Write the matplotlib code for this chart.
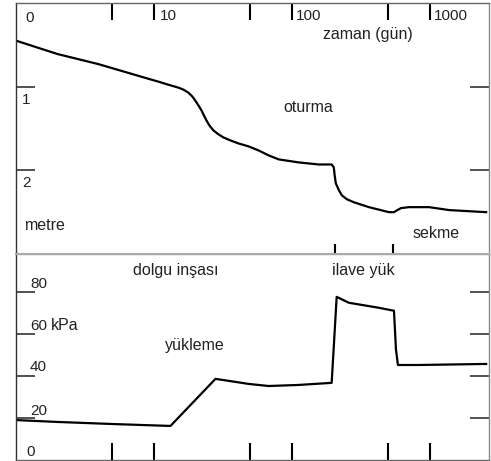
import matplotlib
matplotlib.use("Agg")
import matplotlib.pyplot as plt
from matplotlib.ticker import NullLocator

plt.rcParams['font.family'] = ['Liberation Sans', 'DejaVu Sans']

# settlement (oturma), metre vs days
settle_days = [1, 2.0, 3.95, 9.1, 10.8, 12.7, 15.1, 16.4, 17.8, 19.05, 20.0, 21.1,
               22.2, 23.3, 24.1, 25.3, 27.1, 29.5, 32.0, 36.0, 41.2, 48.7, 57.5,
               68, 80.4, 112, 157, 195, 202, 205, 209, 220, 231, 251, 282, 363,
               508, 552, 583, 620, 709, 991, 1386, 2575]
settle_m = [0.45, 0.61, 0.73, 0.905, 0.94, 0.976, 1.012, 1.036, 1.071, 1.119, 1.167,
            1.226, 1.286, 1.357, 1.405, 1.464, 1.524, 1.571, 1.607, 1.643, 1.679,
            1.714, 1.762, 1.821, 1.869, 1.905, 1.93, 1.93, 1.964, 2.06, 2.155,
            2.238, 2.298, 2.345, 2.381, 2.44, 2.50, 2.50, 2.476, 2.452, 2.44,
            2.44, 2.475, 2.50]

# load (yükleme), kPa vs days
load_days = [1, 2.0, 5.1, 13.2, 28, 48.7, 68, 112, 195, 212, 260, 430, 552,
             571, 590, 839, 2575]
load_kpa = [19.0, 18.1, 17.1, 16.2, 38.6, 36.2, 35.2, 35.7, 36.7, 77.6, 74.8,
            72.4, 71.0, 52.4, 45.2, 45.2, 45.7]

time_ticks = [5, 10, 50, 100, 500, 1000]
event_days = [205, 543]
m_ticks = [1, 2]
kpa_ticks = [20, 40, 60, 80]

W, H = 491, 461
fig = plt.figure(figsize=(W / 100, H / 100), dpi=100)

def frac(x, y):
    return x / W, 1 - y / H

left, right, top, mid, bot = 16, 489, 3, 254, 460
ax1 = fig.add_axes([left / W, 1 - mid / H, (right - left) / W, (mid - top) / H])
ax2 = fig.add_axes([left / W, 1 - bot / H, (right - left) / W, (bot - mid) / H])

for ax in (ax1, ax2):
    ax.set_xscale('log')
    ax.set_xlim(1, 2700)
    ax.xaxis.set_minor_locator(NullLocator())
    ax.spines['left'].set_color('#333333')
    ax.spines['right'].set_color('#888888')
    ax.spines['top'].set_color('#666666')
    ax.spines['bottom'].set_color('#666666')
    for s in ax.spines.values():
        s.set_linewidth(1.0)
ax1.spines['bottom'].set_color('#aaaaaa')
ax2.spines['top'].set_color('#aaaaaa')
ax1.spines['bottom'].set_linewidth(1.5)

# top panel
ax1.plot(settle_days, settle_m, color='black', lw=1.6)
ax1.set_ylim(3, 0)
ax1.set_xticks(time_ticks)
ax1.xaxis.set_ticks_position('top')
ax1.tick_params(axis='x', direction='in', length=12, width=1.5, labeltop=False,
                labelbottom=False)
ax1.set_yticks(m_ticks)
ax1.tick_params(axis='y', direction='in', length=14, width=1.2, left=True,
                right=True, labelleft=False, color='#333333')
sec = ax1.secondary_xaxis('bottom')
sec.set_xticks(event_days)
sec.xaxis.set_minor_locator(NullLocator())
sec.tick_params(direction='in', length=7, width=1.5, labelbottom=False)
sec.tick_params(which='minor', length=0)
sec.spines['bottom'].set_visible(False)
ax1.set_zorder(2)

# bottom panel
ax2.plot(load_days, load_kpa, color='black', lw=1.6)
ax2.set_ylim(0, 98)
ax2.set_xticks(time_ticks)
ax2.tick_params(axis='x', direction='in', length=12, width=1.5, labelbottom=False)
ax2.set_yticks(kpa_ticks)
ax2.tick_params(axis='y', direction='in', length=14, width=1.2, left=True,
                right=True, labelleft=False, color='#333333')

col = '#222222'
# tick labels (slightly smaller) and annotations
num_labels = [
    ("0", 25, 18), ("10", 160, 16), ("100", 296, 16), ("1000", 434, 16),
    ("1", 22, 100), ("2", 22, 183),
    ("80", 30, 284), ("60", 30, 326), ("40", 30, 367), ("20", 30, 411),
    ("0", 26, 452),
]
word_labels = [
    ("zaman (gün)", 323, 35), ("oturma", 283, 107), ("metre", 25, 226),
    ("sekme", 413, 233),
    ("dolgu inşası", 133, 270), ("ilave yük", 332, 270),
    ("kPa", 51, 326), ("yükleme", 165, 345),
]
for txt, x, y in num_labels:
    fx, fy = frac(x, y)
    fig.text(fx, fy, txt, fontsize=11, color=col, ha='left', va='center')
for txt, x, y in word_labels:
    fx, fy = frac(x, y)
    fig.text(fx, fy, txt, fontsize=11.5, color=col, ha='left', va='center')

fig.savefig("out.png", dpi=100)
